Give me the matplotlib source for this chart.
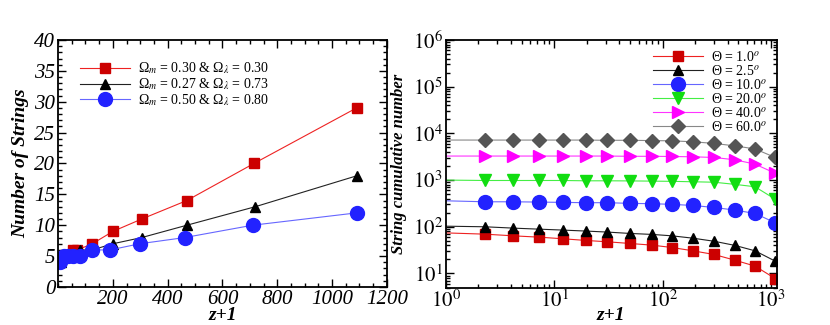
import matplotlib
matplotlib.use('Agg')
import matplotlib.pyplot as plt
from matplotlib.ticker import MultipleLocator, LogLocator, NullFormatter, FuncFormatter
import numpy as np

plt.rcParams['font.family'] = ['Liberation Serif', 'DejaVu Serif']
plt.rcParams['mathtext.fontset'] = 'stix'

# left panel: number of strings vs z+1
red_x = [53, 70, 125, 200, 305, 470, 715, 1090]
red_y = [6, 6, 7, 9, 11, 14, 20, 29]
black_x = [10, 30, 53, 80, 125, 200, 305, 470, 720, 1090]
black_y = [4, 5, 5, 6, 6, 7, 8, 10, 13, 18]
blue_x = [8, 20, 35, 53, 81, 122, 190, 298, 462, 710, 1090]
blue_y = [4, 5, 5, 5, 5, 6, 6, 7, 8, 10, 12]
left_labels = ['Ω$_m$ = 0.30 & Ω$_λ$ = 0.30',
               'Ω$_m$ = 0.27 & Ω$_λ$ = 0.73',
               'Ω$_m$ = 0.50 & Ω$_λ$ = 0.80']

# right panel: cumulative number vs z+1
zp1 = [1, 2.3, 4.2, 7.2, 12, 19.5, 31, 50, 80, 122, 190, 298, 462, 710, 1090]
theta_1 = [74, 69.5, 64, 60, 55.4, 51, 47.7, 43.9, 40.4, 36, 30.6, 25.5, 19.3, 14.4, 7.8]
theta_2p5 = [103, 100, 93.6, 89, 85, 81, 77, 72, 68.6, 64, 57, 49, 40, 30.6, 18.4]
theta_10 = [360, 343, 343, 338, 333, 328, 328, 317, 312, 302, 286, 259, 228, 193, 122]
theta_20 = [1000, 980, 980, 980, 980, 965, 965, 960, 950, 940, 920, 900, 810, 720, 390]
theta_40 = [3270, 3270, 3270, 3270, 3270, 3270, 3270, 3230, 3230, 3200, 3150, 3050, 2720, 2200, 1400]
theta_60 = [7200, 7190, 7190, 7190, 7190, 7190, 7110, 7110, 7000, 6930, 6600, 6100, 5400, 4650, 3050]
right_labels = ['Θ = 1.0$^o$', 'Θ = 2.5$^o$', 'Θ = 10.0$^o$',
                'Θ = 20.0$^o$', 'Θ = 40.0$^o$', 'Θ = 60.0$^o$']


def style_axes(ax):
    ax.tick_params(which='both', direction='in', top=True, right=True,
                   labelsize=15, width=1, pad=2)
    ax.tick_params(which='major', length=6)
    ax.tick_params(which='minor', length=3)
    for lab in ax.get_xticklabels() + ax.get_yticklabels():
        lab.set_fontstyle('italic')
    for s in ax.spines.values():
        s.set_linewidth(1.3)


def log_fmt(v, pos):
    e = int(round(np.log10(v)))
    return r'$\mathit{10^{%d}}$' % e


fig = plt.figure(figsize=(8.3, 3.25), dpi=100)
ax1 = fig.add_axes([0.07, 0.117, 0.396, 0.76])
ax2 = fig.add_axes([0.537, 0.114, 0.399, 0.763])

ax1.plot(red_x, red_y, color='#ee2222', lw=0.8, marker='s', ms=7,
         mfc='#cc0000', mec='#cc0000', label=left_labels[0])
ax1.plot(black_x, black_y, color='#222222', lw=0.8, marker='^', ms=7,
         mfc='black', mec='black', label=left_labels[1])
ax1.plot(blue_x, blue_y, color='#6666ff', lw=0.8, marker='o', ms=10,
         mfc='#2222ff', mec='#2222ff', label=left_labels[2])
ax1.set_xlim(0, 1200)
ax1.set_ylim(0, 40)
ax1.set_xticks([200, 400, 600, 800, 1000, 1200])
ax1.xaxis.set_minor_locator(MultipleLocator(50))
ax1.yaxis.set_major_locator(MultipleLocator(5))
ax1.yaxis.set_minor_locator(MultipleLocator(1))
ax1.set_xlabel('z+1', fontsize=14, fontweight='bold', style='italic', labelpad=-1)
ax1.set_ylabel('Number of Strings', fontsize=14, fontweight='bold', style='italic')
style_axes(ax1)
ax1.legend(loc='upper left', bbox_to_anchor=(0.04, 0.95), frameon=False,
           fontsize=10, handlelength=3.6, handletextpad=0.6, labelspacing=0.0,
           borderaxespad=0.2)

series = [theta_1, theta_2p5, theta_10, theta_20, theta_40, theta_60]
lcolors = ['#ee2222', '#222222', '#6666ff', '#44ee44', '#ff33ff', '#888888']
mcolors = ['#cc0000', 'black', '#2222ff', '#11dd11', '#ff00ff', '#555555']
markers = ['s', '^', 'o', 'v', '>', 'D']
msizes = [7, 7, 10, 8, 8, 7]
for y, lc, mc, m, s, lab in zip(series, lcolors, mcolors, markers, msizes, right_labels):
    ax2.plot(zp1, y, color=lc, lw=0.8, marker=m, ms=s, mfc=mc, mec=mc,
             markevery=slice(1, None), label=lab)
ax2.set_xscale('log')
ax2.set_yscale('log')
ax2.set_xlim(1, 1130)
ax2.set_ylim(4.9, 1e6)
ax2.xaxis.set_major_formatter(FuncFormatter(log_fmt))
ax2.yaxis.set_major_formatter(FuncFormatter(log_fmt))
ax2.xaxis.set_minor_locator(LogLocator(base=10, subs=np.arange(2, 10), numticks=20))
ax2.yaxis.set_minor_locator(LogLocator(base=10, subs=np.arange(2, 10), numticks=20))
ax2.xaxis.set_minor_formatter(NullFormatter())
ax2.yaxis.set_minor_formatter(NullFormatter())
ax2.set_xlabel('z+1', fontsize=14, fontweight='bold', style='italic', labelpad=-4)
ax2.set_ylabel('String cumulative number', fontsize=12, fontweight='bold', style='italic')
style_axes(ax2)
ax2.legend(loc='upper right', bbox_to_anchor=(1.0, 1.0), frameon=False,
           fontsize=10, handlelength=3.6, handletextpad=0.6, labelspacing=0.0,
           borderaxespad=0.3)

fig.savefig('out.png', dpi=100)
